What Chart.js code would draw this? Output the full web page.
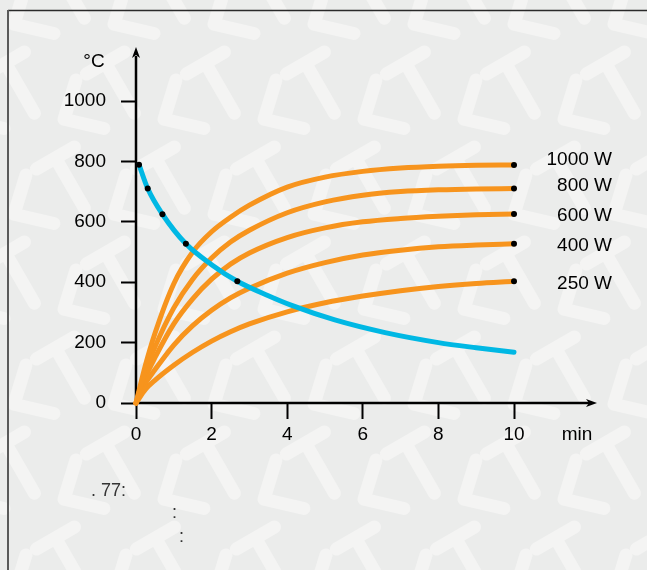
<!DOCTYPE html>
<html><head><meta charset="utf-8">
<script src="https://cdn.jsdelivr.net/npm/chart.js@4.4.1/dist/chart.umd.min.js"></script>
<style>html,body{margin:0;padding:0;background:#ebeceb;overflow:hidden}#wrap{width:647px;height:570px;position:relative}</style>
</head><body><div id="wrap"><canvas id="c" width="647" height="570"></canvas></div>
<script>
// ---- data ----
const powerLabels = ['1000 W', '800 W', '600 W', '400 W', '250 W'];
const heatTimes = [0, 0.25, 0.5, 1, 1.5, 2, 2.5, 3, 4, 5, 6, 7, 8, 9, 10];
const temp1000 = [0, 125, 230, 395, 500, 567, 615, 655, 715, 748, 767, 778, 784, 787, 788];
const temp800  = [0, 105, 185, 315, 410, 480, 533, 572, 630, 666, 688, 700, 706, 709, 710];
const temp600  = [0, 85, 150, 262, 345, 410, 460, 497, 548, 580, 600, 611, 618, 623, 626];
const temp400  = [0, 65, 110, 192, 256, 307, 348, 380, 430, 465, 490, 506, 517, 523, 527];
const temp250  = [0, 45, 75, 125, 168, 205, 236, 262, 302, 332, 354, 372, 386, 396, 403];
const coolTimes = [0.08, 0.31, 0.70, 1.32, 2, 2.68, 3.5, 4.12, 5.26, 6.59, 8, 9, 10];
const coolTemps = [789, 710, 625, 527, 458, 403, 355, 323, 275, 233, 200, 183, 168];
const dotTimes = [0.08, 0.31, 0.70, 1.32, 2.68];
const dotTemps = [789, 710, 625, 527, 403];
const xTickLabels = [0, 2, 4, 6, 8, 10];
const yTickLabels = [0, 200, 400, 600, 800, 1000];

const ORANGE = '#f7941d', BLUE = '#00b8e4';
const FONT = '"Liberation Sans", Arial, sans-serif';
const FS = 19;
const pts = (t, v) => t.map((x, i) => ({x, y: v[i]}));
const heatSeries = [temp1000, temp800, temp600, temp400, temp250];
const endDots = heatSeries.map(s => ({x: heatTimes[heatTimes.length - 1], y: s[s.length - 1]}));

function drawPattern(ctx, w, h) {
  ctx.save();
  ctx.strokeStyle = '#f4f4f3'; ctx.lineWidth = 13; ctx.lineCap = 'round'; ctx.lineJoin = 'round';
  const P = 100, Q = 95;
  for (let r = -1; r * Q < h + 100; r++) {
    for (let c = -2; c * P < w + 100; c++) {
      const ox = c * P + (r % 2 ? 50 : 0), oy = r * Q;
      ctx.save(); ctx.translate(ox, oy); ctx.rotate(-Math.PI / 6);
      ctx.beginPath(); ctx.moveTo(30, 0); ctx.lineTo(0, 28); ctx.lineTo(30, 56); ctx.stroke();
      ctx.beginPath(); ctx.moveTo(42, 0); ctx.lineTo(86, 0); ctx.moveTo(64, 0); ctx.lineTo(64, 58); ctx.stroke();
      ctx.restore();
    }
  }
  ctx.restore();
}

const deco = {
  id: 'deco',
  beforeDraw(chart) {
    const ctx = chart.ctx, w = chart.width, h = chart.height;
    ctx.save();
    ctx.fillStyle = '#ebeceb'; ctx.fillRect(0, 0, w, h);
    drawPattern(ctx, w, h);
    ctx.strokeStyle = '#2a2a2a'; ctx.lineWidth = 1.5;
    ctx.beginPath(); ctx.moveTo(8, 10.5); ctx.lineTo(w, 10.5); ctx.stroke();
    ctx.strokeStyle = '#5a5a5a'; ctx.lineWidth = 2;
    ctx.beginPath(); ctx.moveTo(8, 10); ctx.lineTo(8, h); ctx.stroke();
    ctx.restore();
  },
  beforeDatasetsDraw(chart) {
    const ctx = chart.ctx, xs = chart.scales.x, ys = chart.scales.y;
    const x0 = xs.getPixelForValue(0), y0 = ys.getPixelForValue(0);
    ctx.save();
    ctx.strokeStyle = '#000'; ctx.fillStyle = '#000'; ctx.lineWidth = 2.5;
    ctx.beginPath(); ctx.moveTo(x0, y0); ctx.lineTo(x0, 56); ctx.stroke();
    ctx.beginPath(); ctx.moveTo(x0, y0); ctx.lineTo(589, y0); ctx.stroke();
    ctx.beginPath(); ctx.moveTo(x0, 47); ctx.lineTo(x0 + 4, 58); ctx.lineTo(x0, 55); ctx.lineTo(x0 - 4, 58); ctx.closePath(); ctx.fill();
    ctx.beginPath(); ctx.moveTo(597, y0); ctx.lineTo(586, y0 - 4); ctx.lineTo(589, y0); ctx.lineTo(586, y0 + 4); ctx.closePath(); ctx.fill();
    ctx.restore();
  },
  afterDraw(chart) {
    const ctx = chart.ctx, xs = chart.scales.x, ys = chart.scales.y;
    ctx.save();
    ctx.fillStyle = '#000'; ctx.font = FS + 'px ' + FONT; ctx.textBaseline = 'middle';
    ctx.textAlign = 'center';
    ctx.fillText('°C', xs.left - 42, 62);
    ctx.fillText('min', 577, ys.getPixelForValue(0) + 32);
    ctx.textAlign = 'right';
    const offs = [-5, -3, 2, 2, 2];
    heatSeries.forEach((s, i) => {
      ctx.fillText(powerLabels[i], 612, ys.getPixelForValue(s[s.length - 1]) + offs[i]);
    });
    ctx.textAlign = 'left'; ctx.fillStyle = '#333'; ctx.font = '18px ' + FONT;
    ctx.fillText('. 77:', 91, 491);
    ctx.fillText(':', 172, 513);
    ctx.fillText(':', 179, 537);
    ctx.restore();
  }
};

const orangeSet = (s, label) => ({
  type: 'line', label, data: pts(heatTimes, s), borderColor: ORANGE, borderWidth: 5,
  pointRadius: 0, cubicInterpolationMode: 'monotone', borderCapStyle: 'round', clip: false
});

new Chart(document.getElementById('c'), {
  type: 'line',
  data: {
    datasets: [
      {type: 'scatter', label: 'dots', data: pts(dotTimes, dotTemps).concat(endDots),
       pointRadius: 3, pointBackgroundColor: '#000', pointBorderWidth: 0, showLine: false, clip: false},
      {type: 'line', label: 'cooling', data: pts(coolTimes, coolTemps), borderColor: BLUE, borderWidth: 5,
       pointRadius: 0, cubicInterpolationMode: 'monotone', borderCapStyle: 'round', clip: false},
      ...heatSeries.map((s, i) => orangeSet(s, powerLabels[i]))
    ]
  },
  options: {
    responsive: false, animation: false, devicePixelRatio: 1,
    layout: {padding: {top: 101, right: 133, left: 0, bottom: 0}},
    plugins: {legend: {display: false}, tooltip: {enabled: false}},
    scales: {
      x: {
        type: 'linear', min: 0, max: 10,
        afterBuildTicks: s => { s.ticks = xTickLabels.map(v => ({value: v})); },
        afterFit: s => { s.height = 167; },
        ticks: {color: '#000', font: {family: FONT, size: FS}, padding: 4, maxRotation: 0, callback: v => String(v)},
        grid: {drawOnChartArea: false, drawTicks: true, tickLength: 16, tickWidth: 2, tickColor: '#000'},
        border: {display: false}
      },
      y: {
        type: 'linear', min: 0, max: 1000,
        afterBuildTicks: s => { s.ticks = yTickLabels.map(v => ({value: v})); },
        afterFit: s => { s.width = 136; },
        ticks: {color: '#000', font: {family: FONT, size: FS}, padding: 15, callback: v => String(v)},
        grid: {drawOnChartArea: false, drawTicks: true, tickLength: 15, tickWidth: 2, tickColor: '#000'},
        border: {display: false}
      }
    }
  },
  plugins: [deco]
});
</script>
</body></html>
